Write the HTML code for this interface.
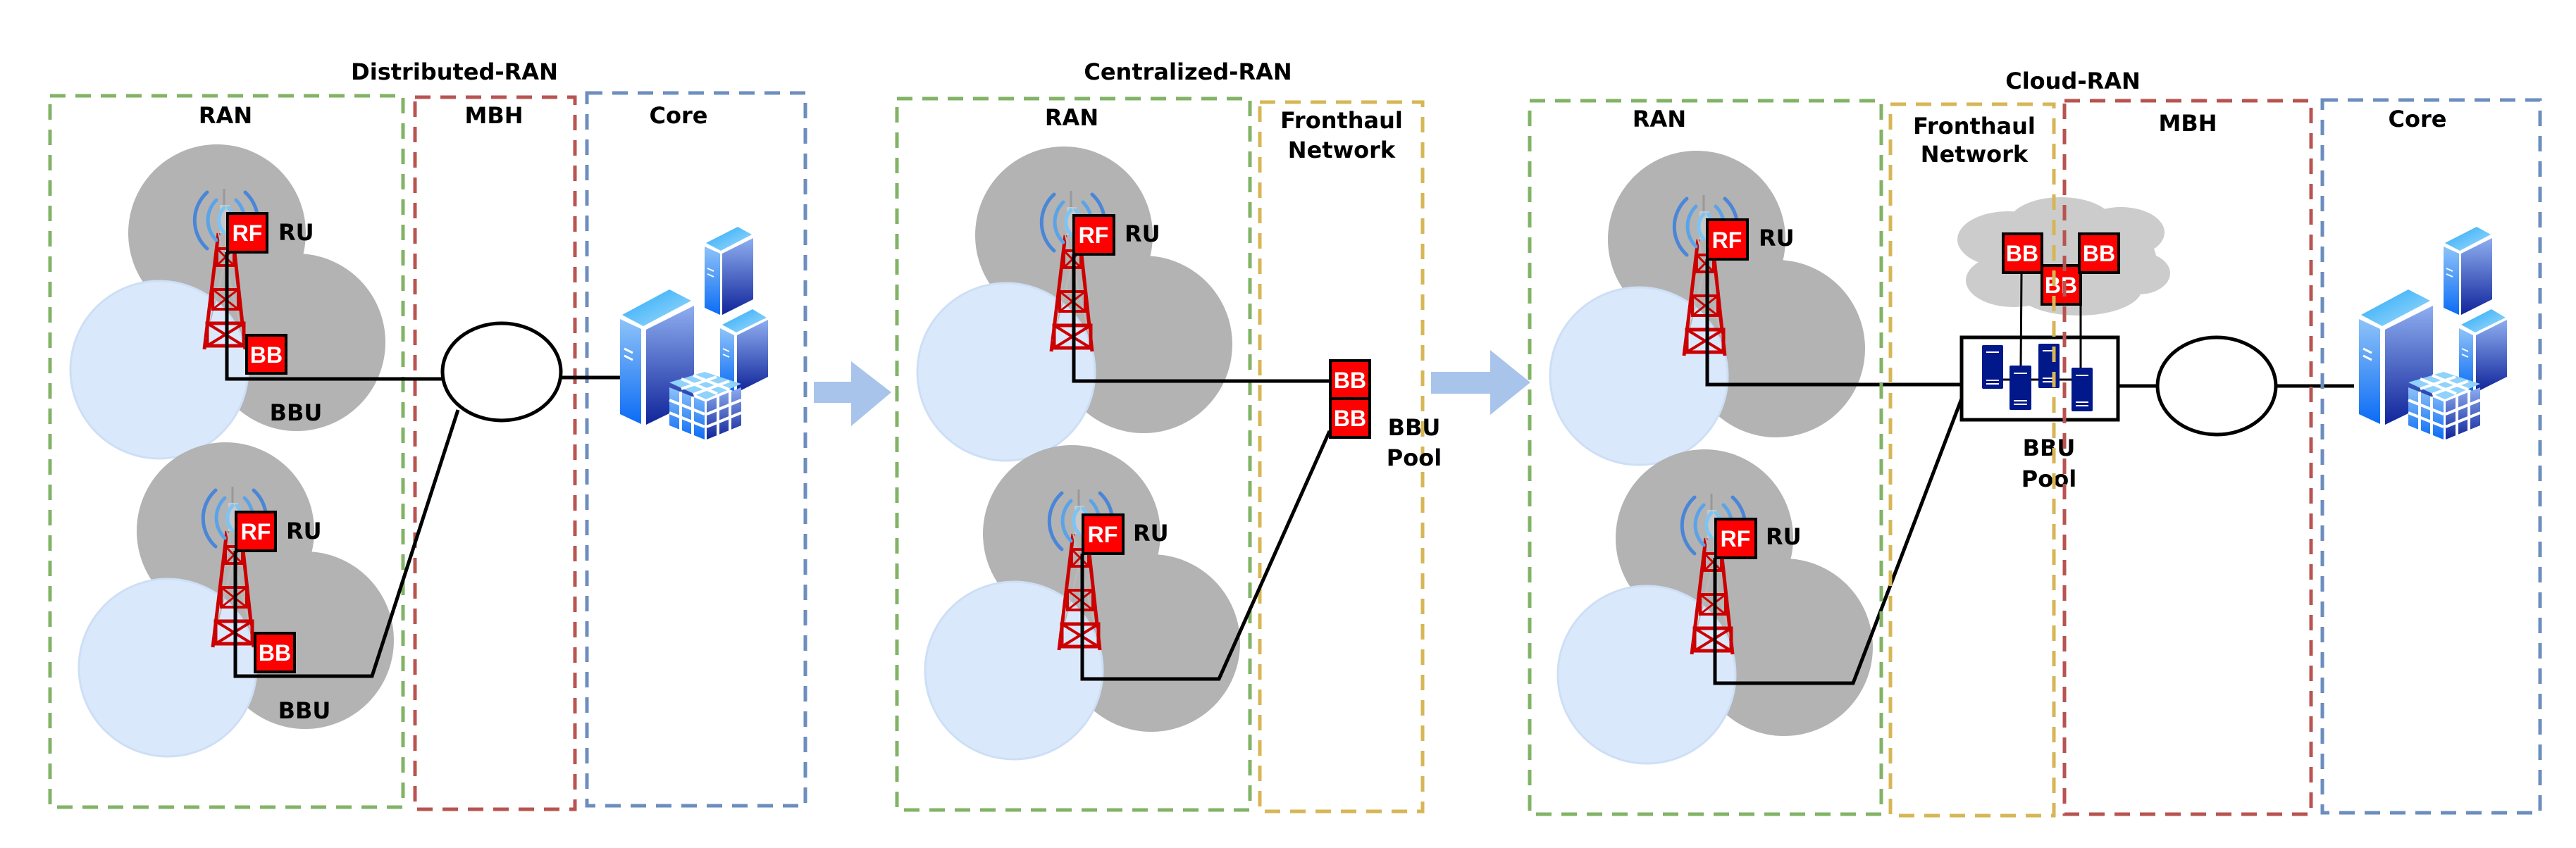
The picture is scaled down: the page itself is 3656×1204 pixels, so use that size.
<!DOCTYPE html>
<html><head><meta charset="utf-8"><style>
html,body{margin:0;padding:0;background:#fff}
svg{display:block}
text{font-family:"DejaVu Sans","Liberation Sans",sans-serif;font-weight:bold;fill:#000}
.w{font-family:"Liberation Sans",sans-serif;fill:#fff;font-size:32px;font-weight:bold}
</style></head><body>
<svg width="3656" height="1204" viewBox="0 0 3656 1204" xmlns="http://www.w3.org/2000/svg">
<defs>
<linearGradient id="gL" x1="0" y1="0" x2="0" y2="1"><stop offset="0" stop-color="#8ec3f8"/><stop offset="1" stop-color="#0b6cf5"/></linearGradient>
<linearGradient id="gR" x1="0" y1="0" x2="0" y2="1"><stop offset="0" stop-color="#8eaef0"/><stop offset="1" stop-color="#10249a"/></linearGradient>
<linearGradient id="gT" x1="0" y1="0" x2="1" y2="1"><stop offset="0" stop-color="#25a8f8"/><stop offset="1" stop-color="#a6dcfb"/></linearGradient>
<g id="circles">
<circle cx="0" cy="0" r="126" fill="#b3b3b3"/>
<circle cx="113" cy="155" r="126" fill="#b3b3b3"/>
<circle cx="-82" cy="194" r="126" fill="#dae8fc" stroke="#cddff5" stroke-width="3"/>
</g>
<g id="tower">
<line x1="10" y1="-63" x2="10" y2="-20" stroke="#999" stroke-width="3"/>
<rect x="4" y="-40" width="14" height="40" fill="#c8c8c8"/>
<path d="M-18,165 L2,0 M40,165 L22,0" stroke="#c00" stroke-width="5" fill="none"/>
<path d="M2,0 L38,150 M22,0 L-16,150" stroke="#bbb" stroke-width="2" fill="none"/>
<rect x="0" y="22" width="24" height="24" fill="none" stroke="#c00" stroke-width="4"/>
<path d="M0,22 L24,46 M24,22 L0,46" stroke="#c00" stroke-width="3"/>
<rect x="-6" y="80" width="36" height="28" fill="none" stroke="#c00" stroke-width="4"/>
<path d="M-6,80 L30,108 M30,80 L-6,108" stroke="#c00" stroke-width="3"/>
<rect x="-14" y="128" width="52" height="32" fill="none" stroke="#c00" stroke-width="5"/>
<path d="M-14,128 L38,160 M38,128 L-14,160" stroke="#c00" stroke-width="4"/>
<g fill="none" stroke-linecap="round" stroke-width="5">
<path d="M-14,-58 A54,54 0 0 0 -14,22" stroke="#4a86d8"/>
<path d="M-1,-47 A40,40 0 0 0 -1,10" stroke="#5aa3e8"/>
<path d="M10,-36 A25,25 0 0 0 10,-1" stroke="#7cc4f4"/>
<path d="M40,-58 A54,54 0 0 1 40,22" stroke="#4a86d8"/>
<path d="M27,-47 A40,40 0 0 1 27,10" stroke="#5aa3e8"/>
<path d="M16,-36 A25,25 0 0 1 16,-1" stroke="#7cc4f4"/>
</g>
</g>
<g id="core">
<polygon points="1000,350 1022,360 1022,447 1000,437" fill="url(#gL)"/>
<polygon points="1025,360 1069,338 1069,425 1025,447" fill="url(#gR)"/>
<polygon points="1002,345 1047,322 1067,333 1023,356" fill="url(#gT)"/>
<polygon points="1022,466 1042,476 1042,556 1022,546" fill="url(#gL)"/>
<polygon points="1046,476 1090,454 1090,535 1046,557" fill="url(#gR)"/>
<polygon points="1025,461 1068,439 1088,451 1045,472" fill="url(#gT)"/>
<polygon points="880,453 910,467 910,602 880,588" fill="url(#gL)"/>
<polygon points="917,468 985,434 985,570 917,603" fill="url(#gR)"/>
<polygon points="883,447 950,411 981,427 913,463" fill="url(#gT)"/>
<path d="M886,495 L898,501 M886,505 L898,511" stroke="#fff" stroke-width="3"/>
<path d="M1004,381 L1013,385 M1004,389 L1013,393" stroke="#fff" stroke-width="2"/>
<path d="M1026,495 L1035,499 M1026,503 L1035,507" stroke="#fff" stroke-width="2"/>
<polygon points="950,543 1000,528 1052,545 1002,567" fill="#8fd2fb"/>
<polygon points="950,550 1000,570 1000,624 950,604" fill="url(#gL)"/>
<polygon points="1003,570 1052,550 1052,604 1003,624" fill="url(#gR)"/>
<g stroke="#fff" stroke-width="4">
<line x1="966" y1="556" x2="966" y2="611"/><line x1="983" y1="563" x2="983" y2="618"/>
<line x1="1019" y1="563" x2="1019" y2="618"/><line x1="1036" y1="556" x2="1036" y2="611"/>
<line x1="950" y1="568" x2="1000" y2="588"/><line x1="950" y1="586" x2="1000" y2="606"/>
<line x1="1003" y1="588" x2="1052" y2="568"/><line x1="1003" y1="606" x2="1052" y2="586"/>
<line x1="967" y1="538" x2="1018" y2="559"/><line x1="984" y1="533" x2="1035" y2="553"/>
<line x1="967" y1="552" x2="1017" y2="535"/><line x1="984" y1="560" x2="1035" y2="541"/>
</g>
</g>
</defs>

<text x="645" y="113" font-size="32" text-anchor="middle">Distributed-RAN</text>
<text x="1686" y="113" font-size="32" text-anchor="middle">Centralized-RAN</text>
<text x="2942" y="126" font-size="32" text-anchor="middle">Cloud-RAN</text>

<use href="#circles" transform="translate(308,331)"/>
<use href="#circles" transform="translate(320,754)"/>
<use href="#tower" transform="translate(308,331)"/>
<use href="#tower" transform="translate(320,754)"/>
<g fill="none" stroke-dasharray="22 14" stroke-width="5">
<rect x="71" y="136" width="501" height="1010" stroke="#82b366"/>
<rect x="589" y="138" width="227" height="1011" stroke="#b85450"/>
<rect x="833" y="132" width="310" height="1012" stroke="#6c8ebf"/>
</g>
<text x="320" y="175" font-size="32" text-anchor="middle">RAN</text>
<text x="701" y="175" font-size="32" text-anchor="middle">MBH</text>
<text x="963" y="175" font-size="32" text-anchor="middle">Core</text>
<g stroke="#000" stroke-width="5" fill="none">
<polyline points="322,358 322,538 627,538"/>
<polyline points="334,782 334,960 528,960 650,582"/>
<ellipse cx="712" cy="528" rx="84" ry="69"/>
<line x1="796" y1="536" x2="880" y2="536"/>
</g>
<rect x="323" y="303" width="56" height="55" fill="#f00" stroke="#000" stroke-width="4"/>
<text class="w" x="351" y="342" text-anchor="middle">RF</text>
<rect x="350" y="476" width="56" height="54" fill="#f00" stroke="#000" stroke-width="4"/>
<text class="w" x="378" y="515" text-anchor="middle">BB</text>
<rect x="335" y="727" width="56" height="55" fill="#f00" stroke="#000" stroke-width="4"/>
<text class="w" x="363" y="766" text-anchor="middle">RF</text>
<rect x="362" y="899" width="56" height="55" fill="#f00" stroke="#000" stroke-width="4"/>
<text class="w" x="390" y="938" text-anchor="middle">BB</text>
<text x="395" y="341" font-size="32">RU</text>
<text x="406" y="765" font-size="32">RU</text>
<text x="420" y="597" font-size="32" text-anchor="middle">BBU</text>
<text x="432" y="1020" font-size="32" text-anchor="middle">BBU</text>
<use href="#core"/>

<polygon points="1155,542 1208,542 1208,513 1265,557 1208,605 1208,572 1155,572" fill="#a9c4eb"/>
<polygon points="2031,528 2115,528 2115,497 2172,543 2115,589 2115,559 2031,559" fill="#a9c4eb"/>

<use href="#circles" transform="translate(1510,334)"/>
<use href="#circles" transform="translate(1521,758)"/>
<use href="#tower" transform="translate(1510,334)"/>
<use href="#tower" transform="translate(1521,758)"/>
<g fill="none" stroke-dasharray="22 14" stroke-width="5">
<rect x="1273" y="140" width="501" height="1010" stroke="#82b366"/>
<rect x="1788" y="145" width="231" height="1007" stroke="#d6b656"/>
</g>
<text x="1521" y="178" font-size="32" text-anchor="middle">RAN</text>
<text x="1904" y="182" font-size="32" text-anchor="middle">Fronthaul</text>
<text x="1904" y="224" font-size="32" text-anchor="middle">Network</text>
<g stroke="#000" stroke-width="5" fill="none">
<polyline points="1524,361 1524,541 1887,541"/>
<polyline points="1536,786 1536,964 1730,964 1887,612"/>
</g>
<rect x="1524" y="306" width="57" height="55" fill="#f00" stroke="#000" stroke-width="4"/>
<text class="w" x="1552" y="345" text-anchor="middle">RF</text>
<rect x="1537" y="731" width="57" height="55" fill="#f00" stroke="#000" stroke-width="4"/>
<text class="w" x="1565" y="770" text-anchor="middle">RF</text>
<text x="1596" y="343" font-size="32">RU</text>
<text x="1608" y="768" font-size="32">RU</text>
<rect x="1888" y="512" width="56" height="54" fill="#f00" stroke="#000" stroke-width="4"/>
<rect x="1888" y="566" width="56" height="55" fill="#f00" stroke="#000" stroke-width="4"/>
<text class="w" x="1916" y="551" text-anchor="middle">BB</text>
<text class="w" x="1916" y="605" text-anchor="middle">BB</text>
<text x="2007" y="618" font-size="32" text-anchor="middle">BBU</text>
<text x="2007" y="661" font-size="32" text-anchor="middle">Pool</text>

<use href="#circles" transform="translate(2408,340)"/>
<use href="#circles" transform="translate(2419,764)"/>
<use href="#tower" transform="translate(2408,340)"/>
<use href="#tower" transform="translate(2419,764)"/>
<g fill="#cccccc">
<ellipse cx="2850" cy="340" rx="72" ry="40"/>
<ellipse cx="2925" cy="318" rx="75" ry="38"/>
<ellipse cx="3010" cy="330" rx="62" ry="36"/>
<ellipse cx="2858" cy="398" rx="68" ry="38"/>
<ellipse cx="2950" cy="410" rx="90" ry="38"/>
<ellipse cx="3035" cy="388" rx="45" ry="30"/>
<ellipse cx="2940" cy="365" rx="120" ry="50"/>
</g>
<g stroke="#000" stroke-width="5" fill="none">
<polyline points="2423,368 2423,546 2784,546"/>
<polyline points="2434,792 2434,970 2630,970 2784,566"/>
<rect x="2784" y="479" width="222" height="117" stroke-width="5"/>
<line x1="3008" y1="548" x2="3062" y2="548"/>
<ellipse cx="3146" cy="548" rx="84" ry="69"/>
<line x1="3230" y1="548" x2="3341" y2="548"/>
</g>
<g stroke="#000" stroke-width="3">
<line x1="2869" y1="388" x2="2868" y2="520"/>
<line x1="2953" y1="433" x2="2953" y2="523"/>
<line x1="2843" y1="539" x2="2940" y2="539"/>
</g>
<g fill="#00188a">
<rect x="2813" y="490" width="30" height="62" rx="2"/>
<rect x="2852" y="519" width="31" height="63" rx="2"/>
<rect x="2893" y="488" width="30" height="63" rx="2"/>
<rect x="2940" y="522" width="30" height="62" rx="2"/>
</g>
<g stroke="#fff" stroke-width="2">
<line x1="2819" y1="500" x2="2837" y2="500"/><line x1="2819" y1="540" x2="2837" y2="540"/><line x1="2819" y1="545" x2="2837" y2="545"/>
<line x1="2858" y1="530" x2="2877" y2="530"/><line x1="2858" y1="569" x2="2877" y2="569"/><line x1="2858" y1="574" x2="2877" y2="574"/>
<line x1="2899" y1="498" x2="2917" y2="498"/><line x1="2899" y1="537" x2="2917" y2="537"/><line x1="2899" y1="542" x2="2917" y2="542"/>
<line x1="2946" y1="533" x2="2964" y2="533"/><line x1="2946" y1="571" x2="2964" y2="571"/><line x1="2946" y1="576" x2="2964" y2="576"/>
</g>
<rect x="2898" y="377" width="55" height="55" fill="#f00" stroke="#000" stroke-width="4"/>
<text class="w" x="2925" y="416" text-anchor="middle">BB</text>
<rect x="2843" y="332" width="55" height="55" fill="#f00" stroke="#000" stroke-width="4"/>
<text class="w" x="2870" y="371" text-anchor="middle">BB</text>
<rect x="2951" y="332" width="56" height="55" fill="#f00" stroke="#000" stroke-width="4"/>
<text class="w" x="2979" y="371" text-anchor="middle">BB</text>
<text x="2908" y="647" font-size="32" text-anchor="middle">BBU</text>
<text x="2908" y="691" font-size="32" text-anchor="middle">Pool</text>
<g fill="none" stroke-dasharray="22 14" stroke-width="5">
<rect x="2171" y="143" width="499" height="1013" stroke="#82b366"/>
<rect x="2683" y="148" width="232" height="1010" stroke="#d6b656"/>
<rect x="2930" y="143" width="350" height="1013" stroke="#b85450"/>
<rect x="3296" y="142" width="309" height="1012" stroke="#6c8ebf"/>
</g>
<rect x="2423" y="312" width="57" height="56" fill="#f00" stroke="#000" stroke-width="4"/>
<text class="w" x="2451" y="352" text-anchor="middle">RF</text>
<rect x="2435" y="737" width="57" height="55" fill="#f00" stroke="#000" stroke-width="4"/>
<text class="w" x="2463" y="776" text-anchor="middle">RF</text>
<text x="2496" y="349" font-size="32">RU</text>
<text x="2506" y="773" font-size="32">RU</text>
<text x="2355" y="180" font-size="32" text-anchor="middle">RAN</text>
<text x="2802" y="190" font-size="32" text-anchor="middle">Fronthaul</text>
<text x="2802" y="230" font-size="32" text-anchor="middle">Network</text>
<text x="3105" y="186" font-size="32" text-anchor="middle">MBH</text>
<text x="3431" y="180" font-size="32" text-anchor="middle">Core</text>
<use href="#core" transform="translate(2468,0)"/>
</svg>
</body></html>
